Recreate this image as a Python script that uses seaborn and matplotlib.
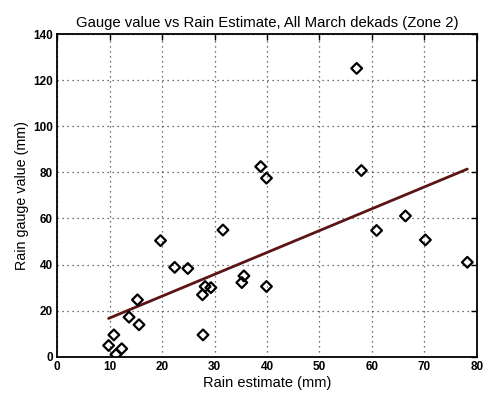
import numpy as np
import pandas as pd
import matplotlib
matplotlib.use("Agg")
import matplotlib.pyplot as plt
import seaborn as sns

# Dekadal rainfall, March, Zone 2
rain_estimate = [9.8, 10.8, 11.2, 12.3, 13.7, 15.3, 15.6, 19.7, 22.4, 24.9,
                 27.7, 27.8, 28.2, 29.3, 31.6, 35.2, 35.6, 38.8, 39.9, 39.9,
                 57.1, 58.0, 60.9, 66.4, 70.2, 78.2]
gauge_value = [4.9, 9.5, 1.0, 3.5, 17.2, 24.7, 13.9, 50.4, 38.8, 38.3,
               26.9, 9.5, 30.5, 30.0, 55.0, 32.2, 35.1, 82.5, 77.5, 30.5,
               125.1, 80.8, 54.8, 61.1, 50.7, 41.0]

x_ticks = [0, 10, 20, 30, 40, 50, 60, 70, 80]
y_ticks = [0, 20, 40, 60, 80, 100, 120, 140]

df = pd.DataFrame({"estimate": rain_estimate, "gauge": gauge_value})

# least-squares fit over the data range
slope, intercept = np.polyfit(df["estimate"], df["gauge"], 1)
fit_x = np.array([df["estimate"].min(), df["estimate"].max()])
fit = pd.DataFrame({"estimate": fit_x, "gauge": intercept + slope * fit_x})

sns.set_theme(style="white")
plt.rcParams["font.family"] = ["Liberation Sans", "DejaVu Sans"]

fig = plt.figure(figsize=(4.89, 3.96), dpi=100)
ax = fig.add_axes([0.117, 0.099, 0.858, 0.815])

sns.scatterplot(data=df, x="estimate", y="gauge", ax=ax, marker="D", s=30,
                facecolors="none", edgecolor="black", linewidth=1.6, zorder=3)
sns.lineplot(data=fit, x="estimate", y="gauge", ax=ax, color="#5c1414",
             linewidth=2.0, zorder=2)

ax.set_xlim(0, 80)
ax.set_ylim(0, 140)
ax.set_xticks(x_ticks)
ax.set_yticks(y_ticks)
ax.grid(True, linestyle=(0, (1, 3)), color="#444444", linewidth=0.9)
for s in ax.spines.values():
    s.set_visible(True)
    s.set_color("black")
    s.set_linewidth(1.3)
ax.tick_params(direction="in", length=4, width=1, top=True, right=True,
               labelsize=8.5, colors="black", pad=3)
for lab in ax.get_xticklabels() + ax.get_yticklabels():
    lab.set_fontweight("bold")

ax.set_title("Gauge value vs Rain Estimate, All March dekads (Zone 2)",
             fontsize=10.7, pad=5, color="black")
ax.set_xlabel("Rain estimate (mm)", fontsize=10.5, labelpad=2, color="black")
ax.set_ylabel("Rain gauge value (mm)", fontsize=10.3, labelpad=3, color="black")

fig.savefig("out.png", dpi=100, facecolor="white")
